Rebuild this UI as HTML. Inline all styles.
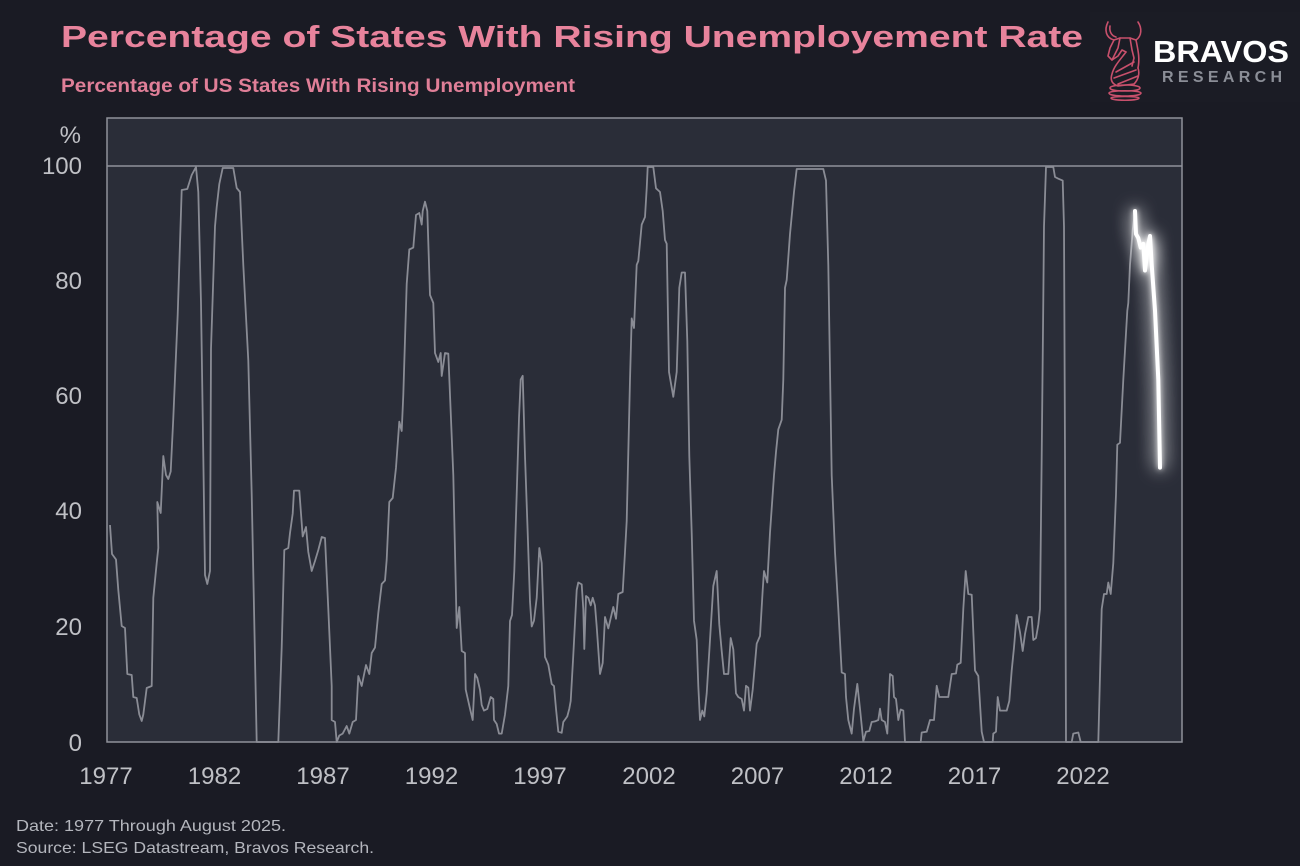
<!DOCTYPE html>
<html>
<head>
<meta charset="utf-8">
<style>
html,body{margin:0;padding:0;background:#1a1b24;}
svg{display:block;}
text{font-family:"Liberation Sans",sans-serif;}
</style>
</head>
<body>
<svg width="1300" height="866" viewBox="0 0 1300 866" xmlns="http://www.w3.org/2000/svg">
<defs>
<filter id="glow" x="-300%" y="-50%" width="700%" height="200%">
<feGaussianBlur in="SourceGraphic" stdDeviation="9" result="b1"/>
<feGaussianBlur in="SourceGraphic" stdDeviation="3" result="b2"/>
<feMerge><feMergeNode in="b1"/><feMergeNode in="b1"/><feMergeNode in="b2"/><feMergeNode in="SourceGraphic"/></feMerge>
</filter>
</defs>
<rect x="0" y="0" width="1300" height="866" fill="#1a1b24"/>
<rect x="1090" y="12" width="210" height="90" fill="#1b1c25"/>

<!-- Title -->
<text x="61" y="47" font-size="31" font-weight="bold" fill="#e8839c" textLength="1022" lengthAdjust="spacingAndGlyphs">Percentage of States With Rising Unemployement Rate</text>
<text x="61" y="92" font-size="19.5" font-weight="bold" fill="#e07f98" textLength="514" lengthAdjust="spacingAndGlyphs">Percentage of US States With Rising Unemployment</text>

<!-- Logo -->
<g fill="none" stroke="#c8506c" stroke-width="1.6" stroke-linejoin="round" stroke-linecap="round">
<path d="M1108,22 C1104,30 1106,38 1114,40 L1120,38 L1130,38 L1136,40 C1142,36 1142,28 1138,22"/>
<path d="M1110,26 C1109,32 1112,36 1116,37"/>
<path d="M1114,40 L1110,48 L1108,56 L1112,60 L1118,56 L1122,50 L1126,52"/>
<path d="M1120,38 L1118,48 L1112,60"/>
<path d="M1130,38 L1132,50 L1134,58 L1132,66"/>
<path d="M1136,40 C1138,50 1140,58 1138,68"/>
<path d="M1126,52 C1120,60 1114,66 1112,74 C1110,80 1112,84 1118,86 L1134,84 C1138,80 1140,74 1138,68"/>
<path d="M1116,72 L1134,62 M1114,78 L1136,70 M1118,84 L1138,76"/>
<path d="M1110,88 C1110,84 1140,84 1140,88 C1140,92 1110,92 1110,88 Z"/>
<path d="M1109,93 C1109,90 1141,90 1141,93 C1141,97 1109,97 1109,93 Z"/>
<path d="M1111,98 C1111,96 1139,96 1139,98 C1139,101 1111,101 1111,98 Z"/>
</g>
<text x="1153" y="62" font-size="31" font-weight="bold" fill="#ffffff" textLength="136" lengthAdjust="spacingAndGlyphs">BRAVOS</text>
<text x="1162" y="82" font-size="16" font-weight="bold" fill="#8b8e97" textLength="120" lengthAdjust="spacing">RESEARCH</text>

<!-- Plot area -->
<rect x="107" y="118" width="1075" height="624" fill="#2a2d38" stroke="#8f919a" stroke-width="1.5"/>
<line x1="107" y1="166" x2="1182" y2="166" stroke="#8f919a" stroke-width="1.5"/>

<!-- Y labels -->
<g font-size="24" fill="#bfc0c5" text-anchor="end">
<text x="81" y="143">%</text>
<text x="82" y="174">100</text>
<text x="82" y="289">80</text>
<text x="82" y="404">60</text>
<text x="82" y="519">40</text>
<text x="82" y="635">20</text>
<text x="82" y="751">0</text>
</g>

<!-- X labels -->
<g font-size="24" fill="#bfc0c5" text-anchor="middle">
<text x="106" y="784">1977</text>
<text x="214.5" y="784">1982</text>
<text x="323" y="784">1987</text>
<text x="431.5" y="784">1992</text>
<text x="540" y="784">1997</text>
<text x="649" y="784">2002</text>
<text x="757.5" y="784">2007</text>
<text x="866" y="784">2012</text>
<text x="974.5" y="784">2017</text>
<text x="1083" y="784">2022</text>
</g>

<!-- Gray series -->
<polyline fill="none" stroke="#8a8c95" stroke-width="1.8" stroke-linejoin="round" points="
110,525 112,554 116,559.5 118.3,590 121.7,626 125,628 127.3,674 131.7,675 133.3,697 136.7,698 139.3,714.5 141.7,721 143.3,714.5 146.7,688 151.7,686 153.3,598 156.7,563 158.3,548 157.3,502 160.7,513 163.3,456 166,475 168.3,479 170.7,471.5 173.3,418 177.7,314.6 181.7,190 187.3,189 191.7,175 196,167 198.3,192 201,303 203.3,456 205,575 207.3,584 210,571 211,349 215,226.5 216.7,207 219.3,184 222.7,168 233.3,168 236.7,188 240,192 243.3,265 248.3,360.5 251.7,494 256.7,742 278.3,742 281.7,647.5 284.3,550 288.3,548 290,533 292.7,513.6 294,490.6 299.3,490.6
302.7,536.5 306,527 308.3,552 311.7,571 315,561 318.3,550 321.7,537 325,538 328.3,609 331.7,686 331.7,720 335,722 336.7,742 339.3,735.5 342.7,733.6 346.7,726 349.3,733.6 352.7,722 356,720 358.3,676 361.7,686 366,665 369.3,674 371.7,653 375,647.5 378.3,613 381.7,584 385,580.5 386.7,559.5 389.3,502 392.7,498 396,467.6 399.3,421.7 401.7,431 403.3,395 406.7,284 409.3,249.5 413.3,247.6 416,215 419.3,213 421.7,224.6 422.7,211 425,201.7 427.3,211 430,295 433.3,303 435,353 438.3,362 440.7,353 441.7,376 445,353 448.3,353.6 453.3,475 456.7,628 459.3,607 461.7,651 465,653 465.7,689.6 470,708.7 472.7,720 475,674 477.3,678 480,690 481.7,705 484,710.6 487.3,709 490.7,697
493.3,699 494,720 496.7,724 499,733.6 501.7,733.6 505,714.5 508.3,686 510,621 512,615 514.3,571 516.7,494 519,418 520.7,379.6 522.7,375.8 525,456 527.7,532.7 530,601.6 531.7,626.5 534,620.7 536.7,597.8 539.3,548 541.7,563 543.3,609 545,657 548.3,664.7 551.7,684 554,686 556,708.7 558.3,731.7 561.7,732.8 563.3,722 567.3,716.4 569.3,708.7 570.7,701 573.3,655 576.7,590 578.3,582.5 581.7,584.4 583.3,609 584.3,649 586,596 588.3,597.8 590.7,605.4 592.7,597.8 595,605.4 596.7,626.5 600,674 602.7,663 605,617 608.3,628.4 613.3,607 616,618.8 618.3,594 622.7,592 625,552 626.7,521 630,379.6 631.7,318.4 634,328 636.7,264.8 638.3,261 641.7,224.6 645,217 646.7,188.3 647.7,167 653.3,167 656,188.3 660,192 662.7,211 665,240 666.7,243.8 669,372 673.3,396.8 676.7,372 679.3,287.8 681.7,272.5 685,272.5 687.3,341 689.3,456
691.7,532.7 694,620.7 696.7,640 698.3,686 700,720 702.3,710.6 704.3,716.4 706.7,693.4 710,640 713.3,586 716.7,571 719.3,624.6 721.7,651 724,674 728.3,674 730.7,638 733.3,649.4 736,693.4 738.3,697 741.7,699 744,710.6 746,685.8 748.3,687.7 750,710.6 752.7,689.6 756.7,643.7 760,636 762.7,590 764,571 767.3,582.5 770,532.7 774,475.3 776,452 778.3,429.4 781.7,419.8 783.3,379.6 785,287.8 786.7,280 790,234 794,192 796.7,169 823.3,169 826,180.6 828.3,264.8 831.7,475.3 835,552 838.3,609 841.7,672.4 845,674 846,697 848.3,720 851.7,733.6 854,708.7 857.3,683.9 860,708.7 863.3,741.3 866,731.7 869.3,731 871.7,722 875,721.4 878.3,720 880,708.7 881.7,720 885,722 887.3,733.6 890,674 892.7,676 894,697 896,699 898.3,720 900.7,709.5 903.3,710.6 905,742 920.7,742 921.7,732.5 926.7,731.7 930,720 934,720 936.7,685.8 939.3,697 948.3,697 951.7,674 956,673.5 957.3,664.7 960.7,662.8 963.3,609 965.7,571 968.3,594 971.7,594.7 975,670.5 978.3,676 981.7,731.7 984,742 992.7,742 993.3,733.6 996,731.7 997.7,697 1000,710.6 1006.7,710.6 1009.3,701 1011.7,670.5 1014,647.5 1016.7,615 1020,632 1022.7,651 1025,634 1028.3,617 1031.7,617 1033.3,640 1036,638 1038.3,624.6 1040,609 1041.7,456 1043.3,300 1044,226.5 1046,167 1053.3,167 1055,177 1058.3,178.7 1062.7,180.6 1064,226.5 1065,456 1066,742 1071.7,742 1073.3,733.6 1078.3,732.5 1080.7,742 1098.3,742 1101.7,609 1104,594 1106.7,594 1108.3,582.5 1110.7,594 1113.3,563 1116,494.4 1117.3,444.7 1120,442.8 1123.3,379.6 1127.3,310.7 1128.3,303 1130,264.8 1132.7,230.4 1135,211"/>

<!-- Highlighted recent series -->
<polyline fill="none" stroke="#ffffff" stroke-width="4" stroke-linejoin="round" stroke-linecap="round" filter="url(#glow)" points="1135,211 1136,234 1138.3,238 1140.7,247.6 1143.3,243.8 1145,270.5 1146.7,257 1148.3,243.8 1150,236 1151.7,264.8 1155,310.7 1158.3,379.6 1160,467.6"/>

<!-- Footer -->
<text x="16" y="831" font-size="16" fill="#b4b6bd" textLength="270" lengthAdjust="spacingAndGlyphs">Date: 1977 Through August 2025.</text>
<text x="16" y="853" font-size="16" fill="#b4b6bd" textLength="358" lengthAdjust="spacingAndGlyphs">Source: LSEG Datastream, Bravos Research.</text>
</svg>
</body>
</html>
